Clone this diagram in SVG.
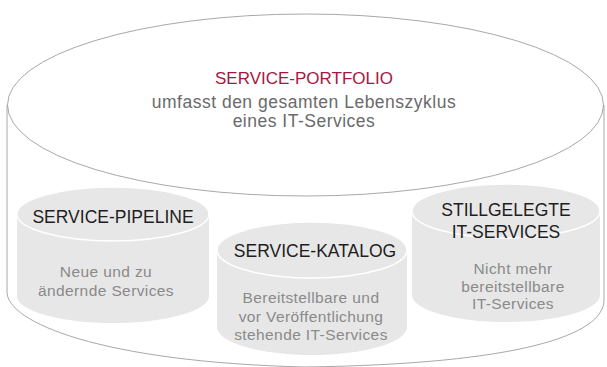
<svg xmlns="http://www.w3.org/2000/svg" width="607" height="367" viewBox="0 0 607 367">
<style>
.outline{fill:none;stroke:#a8a8a8;stroke-width:1}
.body{fill:#e7e7e7}
.cap{fill:#e7e7e7;stroke:#ffffff;stroke-width:1.5}
text{font-family:"Liberation Sans","Arial",sans-serif;text-anchor:middle}
.title{font-size:17px;fill:#a8163f}
.sub{font-size:17.5px;fill:#6a6a6a;letter-spacing:0.5px}
.head{font-size:17.5px;fill:#1e1e1e}
.desc{font-size:15.5px;fill:#8a8a8a;letter-spacing:0.4px}
</style>
<rect width="607" height="367" fill="#ffffff"/>
<g id="portfolio">
<path class="outline" d="M7,105 V292 C7,322 100,362 305,367 M604,105 V300 C604,335 520,364 305,367"/>
<ellipse class="outline" cx="305.5" cy="105" rx="298" ry="91" fill="#ffffff"/>
<text class="title" x="304" y="84">SERVICE-PORTFOLIO</text>
<text class="sub" x="304" y="108">umfasst den gesamten Lebenszyklus</text>
<text class="sub" x="304" y="127">eines IT-Services</text>
</g>
<g id="pipeline">
<path class="body" d="M17,214 V296 A96,27 0 0 0 209,296 V214 Z"/>
<ellipse class="cap" cx="113" cy="214" rx="96" ry="27"/>
<text class="head" x="113" y="223">SERVICE-PIPELINE</text>
<text class="desc" x="106" y="277">Neue und zu</text>
<text class="desc" x="106" y="296">ändernde Services</text>
</g>
<g id="katalog">
<path class="body" d="M217,250 V327 A95,28 0 0 0 407,327 V250 Z"/>
<ellipse class="cap" cx="312" cy="250" rx="95" ry="28"/>
<text class="head" x="315" y="257">SERVICE-KATALOG</text>
<text class="desc" x="311" y="303">Bereitstellbare und</text>
<text class="desc" x="311" y="322">vor Veröffentlichung</text>
<text class="desc" x="311" y="340">stehende IT-Services</text>
</g>
<g id="stillgelegt">
<path class="body" d="M412,211 V295 A94,27 0 0 0 600,295 V211 Z"/>
<ellipse class="cap" cx="506" cy="211" rx="94" ry="27"/>
<text class="head" x="506" y="216">STILLGELEGTE</text>
<text class="head" x="506" y="238">IT-SERVICES</text>
<text class="desc" x="513" y="274">Nicht mehr</text>
<text class="desc" x="513" y="292">bereitstellbare</text>
<text class="desc" x="513" y="309">IT-Services</text>
</g>
</svg>
